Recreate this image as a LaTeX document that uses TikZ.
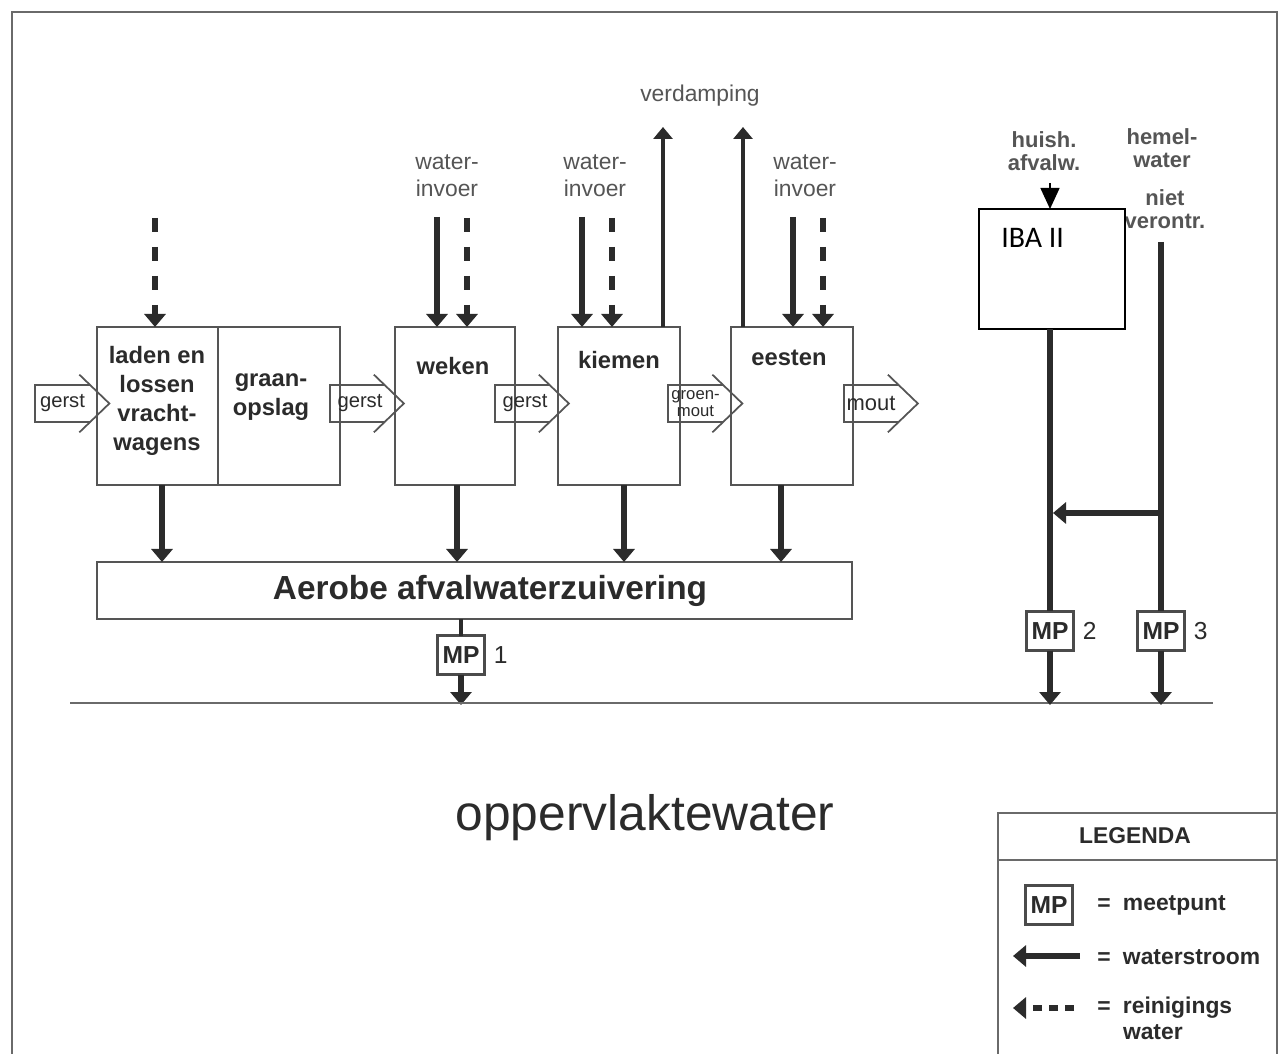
\documentclass[tikz,border=0pt]{standalone}
\usepackage{fontspec}
\setmainfont{Liberation Sans}
\newfontfamily\ibafont{Carlito}
\usepackage{xcolor}
\usepackage{tikz}
\usetikzlibrary{arrows.meta,positioning,calc}
\definecolor{ScanInk}{HTML}{2B2B2B}
\definecolor{ScanGrey}{HTML}{555555}
\definecolor{ScanLine}{HTML}{6A6A6A}
\newcommand{\feedoutline}[1]{%
  \draw[feedline] (#1.north east) -- (#1.north west) -- (#1.south west) -- (#1.south east);
  \draw[feedline] ([xshift=-2.1mm,yshift=2mm]#1.north east) -- ([xshift=3.9mm]#1.east) -- ([xshift=-2.1mm,yshift=-2mm]#1.south east);}

\begin{document}
\begin{tikzpicture}[
    x=0.2mm, y=-0.2mm,
    proc/.style={
      draw=ScanInk!80,
      line width=0.4mm,
      minimum width=24.3mm,
      minimum height=31.6mm,
      inner sep=0pt,
      outer sep=0pt
    },
    proctext/.style={
      text=ScanInk,
      align=center,
      inner sep=0pt,
      font=\bfseries\fontsize{13.5}{16.6}\selectfont
    },
    inlabel/.style={
      text=ScanGrey,
      align=center,
      inner sep=0pt,
      font=\fontsize{13}{15.3}\selectfont
    },
    sidelabel/.style={
      text=ScanGrey,
      align=center,
      inner sep=0pt,
      font=\bfseries\fontsize{12.5}{12.8}\selectfont
    },
    feed/.style={
      minimum width=10.8mm,
      minimum height=7.4mm,
      inner sep=0pt,
      text=ScanInk,
      font=\fontsize{11.5}{12}\selectfont
    },
    feedline/.style={draw=ScanInk!80, line width=0.35mm},
    meet/.style={
      draw=ScanInk!85,
      fill=white,
      line width=0.5mm,
      minimum width=9.4mm,
      minimum height=7.8mm,
      inner sep=0pt,
      outer sep=0pt,
      text=ScanInk,
      font=\bfseries\fontsize{14}{14}\selectfont
    },
    meetnr/.style={inner sep=0pt, text=ScanInk, font=\fontsize{14}{14}\selectfont},
    legendtext/.style={inner sep=0pt, text=ScanInk, font=\bfseries\fontsize{13}{14.7}\selectfont},
    flow/.style={
      -{Triangle[length=2.6mm,width=4.2mm]},
      draw=ScanInk,
      line width=1.3mm
    },
    clean/.style={flow, dash pattern=on 2.8mm off 3mm},
    pipe/.style={draw=ScanInk, line width=1.3mm},
    vapour/.style={-{Triangle[length=2.4mm,width=3.8mm]}, draw=ScanInk, line width=0.8mm},
    ibafeed/.style={-{Triangle[length=4.2mm,width=3.8mm]}, draw=black, line width=0.3mm},
    frame/.style={draw=ScanLine, line width=0.4mm}
  ]
    \path[use as bounding box, fill=white] (0,0) rectangle (1286,1054);
    \draw[frame] (12,1054) -- (12,12) -- (1277,12) -- (1277,1054);

    % malting line
    \node[proc, minimum width=24.2mm] (laden) at (157.5,406) {};
    \node[proc, right=0mm of laden] (graan) {};
    \node[proc, minimum width=24mm] (weken) at (455,406) {};
    \node[proc] (kiemen) at (619,406) {};
    \node[proc] (eesten) at (792,406) {};
    \node[proc, minimum width=151mm, minimum height=11.4mm] (aerobe) at (474.5,590.5) {};

    \node[proctext] (ladentext) at (157,401) {laden en\\lossen\\vracht-\\wagens};
    \node[proctext] (graantext) at (271,397) {graan-\\opslag};
    \node[proctext] (wekentext) at (453,366) {weken};
    \node[proctext] (kiementext) at (619,360) {kiemen};
    \node[proctext] (eestentext) at (789,358) {eesten};
    \node[proctext, font=\bfseries\fontsize{19}{22}\selectfont] (aerobetext) at (490,591) {Aerobe afvalwaterzuivering};

    \node[feed] (gerst1) at (62.5,403.5) {gerst};
    \node[feed] (gerst2) at (357,403.5) {\hspace{1.2mm}gerst};
    \node[feed] (gerst3) at (522,403.5) {\hspace{1.2mm}gerst};
    \node[feed, align=center, font=\fontsize{9.5}{10}\selectfont] (groenmout) at (695.5,403.5) {groen-\\mout};
    \node[feed, font=\fontsize{12.5}{13}\selectfont] (mout) at (871,403.5) {mout};
    \foreach \f in {gerst1,gerst2,gerst3,groenmout,mout} {\feedoutline{\f}}

    % water in and out at the top
    \node[inlabel] (wekeninvoer) at (447,176) {water-\\invoer};
    \node[inlabel] (kiemeninvoer) at (595,176) {water-\\invoer};
    \node[inlabel] (eesteninvoer) at (805,176) {water-\\invoer};
    \node[inlabel] (verdamping) at (700,96) {verdamping};

    \coordinate (ladenclean) at (155,218);
    \coordinate (wekenwater) at (437,217);
    \coordinate (wekenclean) at (467,218);
    \coordinate (kiemenwater) at (582,217);
    \coordinate (kiemenclean) at (612,218);
    \coordinate (eestenwater) at (793,217);
    \coordinate (eestenclean) at (823,218);
    \coordinate (kiemenvap) at (663,127);
    \coordinate (eestenvap) at (743,127);

    \draw[clean] (ladenclean) -- (ladenclean |- laden.north);
    \draw[flow] (wekenwater) -- (wekenwater |- weken.north);
    \draw[clean] (wekenclean) -- (wekenclean |- weken.north);
    \draw[flow] (kiemenwater) -- (kiemenwater |- kiemen.north);
    \draw[clean] (kiemenclean) -- (kiemenclean |- kiemen.north);
    \draw[flow] (eestenwater) -- (eestenwater |- eesten.north);
    \draw[clean] (eestenclean) -- (eestenclean |- eesten.north);
    \draw[vapour] (kiemenvap |- kiemen.north) -- (kiemenvap);
    \draw[vapour] (eestenvap |- eesten.north) -- (eestenvap);

    \foreach \b/\x in {laden/162,weken/457,kiemen/624,eesten/781}
      \draw[flow] (\b.south -| \x,0) -- (aerobe.north -| \x,0);

    % discharge
    \node[meet] (mp1) at (461,655) {MP};
    \node[meetnr, right=1.8mm of mp1] (mp1nr) {1};
    \coordinate (out1) at (461,705);
    \draw[pipe, line width=0.8mm] (aerobe.south -| mp1) -- (mp1.north);
    \draw[flow] (mp1.south) -- (out1);

    \draw[frame] (70,703) -- (1213,703);
    \node[text=ScanInk, inner sep=0pt, font=\fontsize{28.3}{32}\selectfont] (opp) at (645,818) {oppervlaktewater};

    % domestic and rain water
    \node[sidelabel] (huish) at (1044,151) {huish.\\afvalw.};
    \node[sidelabel] (hemel) at (1162,148) {hemel-\\water};
    \node[sidelabel] (niet) at (1165,209) {niet\\verontr.};
    \node[draw=black, fill=white, line width=0.45mm, minimum width=29.2mm, minimum height=24mm, outer sep=0pt] (iba) at (1052,269) {};
    \node[anchor=west, inner sep=0pt, font=\ibafont\fontsize{17}{20}\selectfont] (ibatext) at (1001,238) {IBA II};
    \coordinate (huishin) at (1050,183);
    \draw[ibafeed] (huishin) -- (huishin |- iba.north);

    \node[meet] (mp2) at (1050,631) {MP};
    \node[meet] (mp3) at (1161,631) {MP};
    \node[meetnr, right=1.8mm of mp2] (mp2nr) {2};
    \node[meetnr, right=1.8mm of mp3] (mp3nr) {3};
    \coordinate (hemeltop) at (1161,242);
    \coordinate (overloop) at (1161,513);
    \coordinate (out2) at (1050,705);
    \coordinate (out3) at (1161,705);
    \draw[pipe] (mp2.north |- iba.south) -- (mp2.north);
    \draw[pipe] (hemeltop) -- (mp3.north);
    \draw[flow, shorten >=0.6mm] (overloop) -- (mp2.north |- overloop);
    \draw[flow] (mp2.south) -- (out2);
    \draw[flow] (mp3.south) -- (out3);

    % legend
    \draw[frame] (998,1054) -- (998,813) -- (1277,813);
    \draw[frame] (998,860) -- (1277,860);
    \node[legendtext] (legenda) at (1135,836) {LEGENDA};
    \node[meet] (mplegend) at (1049,905) {MP};
    \node[legendtext, anchor=west] (meetpunt) at (1097,905) {=\hspace{7pt}meetpunt};
    \coordinate (legflowA) at (1080,956);
    \coordinate (legflowB) at (1013,956);
    \draw[flow] (legflowA) -- (legflowB);
    \node[legendtext, anchor=west] (waterstroom) at (1097,957) {=\hspace{7pt}waterstroom};
    \coordinate (legcleanA) at (1074,1008);
    \coordinate (legcleanB) at (1013,1008);
    \draw[flow, dash pattern=on 1.8mm off 1.4mm] (legcleanA) -- (legcleanB);
    \node[legendtext, anchor=north west, align=left] (reinigings) at (1097,997) {=\hspace{7pt}reinigings\\\phantom{=}\hspace{7pt}water};
  \end{tikzpicture}
\end{document}
